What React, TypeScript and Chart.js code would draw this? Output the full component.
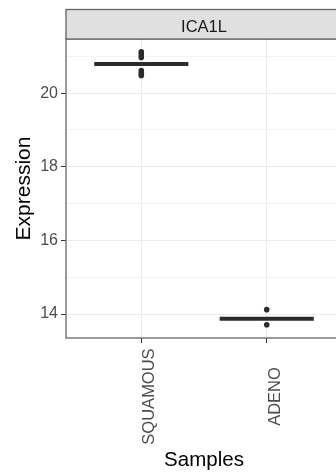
import React, { useEffect, useRef } from "react";
import { Chart, registerables } from "chart.js";

Chart.register(...registerables);

// ---- data ----
const facetTitle = "ICA1L";
const categories = ["SQUAMOUS", "ADENO"];
const medians = [20.79, 13.87];
const squamousPoints = [21.12, 21.05, 20.97, 20.61, 20.54, 20.48];
const adenoPoints = [14.12, 13.71];
const yTickValues = [14, 15, 16, 17, 18, 19, 20, 21];
const yLabelledTicks = [14, 16, 18, 20];
const xTitle = "Samples";
const yTitle = "Expression";
const yMin = 13.35;
const yMax = 21.47;

// ---- style ----
const FONT = "'Liberation Sans', Arial, sans-serif";
const BOX_WIDTH = 0.75;
const GRID = "#ebebeb";
const BORDER = "#666666";
const DARK = "#2b2b2b";
const TICK_TEXT = "#4d4d4d";
const CANVAS_W = 350;
const CANVAS_H = 472;

const panelPlugin = {
  id: "panelDecor",
  afterDatasetsDraw(chart: any) {
    const { ctx, chartArea: a } = chart;
    ctx.save();
    ctx.strokeStyle = BORDER;
    ctx.lineWidth = 1.3;
    ctx.strokeRect(a.left, a.top, a.right - a.left, a.bottom - a.top);
    ctx.restore();
  },
  afterDraw(chart: any) {
    const { ctx, chartArea: a } = chart;
    const xs = chart.scales.x;
    ctx.save();
    // facet strip
    const stripH = 29.5;
    ctx.fillStyle = "#e0e0e0";
    ctx.fillRect(a.left, a.top - stripH, a.right - a.left, stripH);
    ctx.strokeStyle = BORDER;
    ctx.lineWidth = 1.3;
    ctx.strokeRect(a.left, a.top - stripH, a.right - a.left, stripH);
    ctx.fillStyle = "#1a1a1a";
    ctx.font = `16.5px ${FONT}`;
    ctx.textAlign = "center";
    ctx.textBaseline = "alphabetic";
    ctx.fillText(facetTitle, (a.left + a.right) / 2, a.top - 6.7);
    // x category labels, rotated and centred
    ctx.fillStyle = TICK_TEXT;
    ctx.font = `16.5px ${FONT}`;
    categories.forEach((c, i) => {
      const px = xs.getPixelForValue(i + 1);
      ctx.save();
      ctx.translate(px + 12.8, a.bottom + 58.5);
      ctx.rotate(-Math.PI / 2);
      ctx.textAlign = "center";
      ctx.textBaseline = "alphabetic";
      ctx.fillText(c, 0, 0);
      ctx.restore();
    });
    ctx.restore();
  },
};

export default function App() {
  const ref = useRef<HTMLCanvasElement | null>(null);

  useEffect(() => {
    if (!ref.current) return;
    const pointSets = [squamousPoints, adenoPoints];
    const pointDatasets = pointSets.map((pts, i) => ({
      type: "scatter" as const,
      label: categories[i] + " points",
      data: pts.map((v) => ({ x: i + 1, y: v })),
      pointRadius: 2.8,
      pointBackgroundColor: DARK,
      pointBorderWidth: 0,
      showLine: false,
      order: 0,
    }));
    const medianDatasets = medians.map((m, i) => ({
      type: "line" as const,
      label: categories[i] + " median",
      data: [
        { x: i + 1 - BOX_WIDTH / 2, y: m },
        { x: i + 1 + BOX_WIDTH / 2, y: m },
      ],
      borderColor: DARK,
      borderWidth: 4,
      borderCapStyle: "butt" as const,
      pointRadius: 0,
      showLine: true,
      fill: false,
      order: 1,
    }));

    const chart = new Chart(ref.current, {
      type: "scatter",
      data: { datasets: [...medianDatasets, ...pointDatasets] as any },
      options: {
        responsive: false,
        animation: false,
        devicePixelRatio: 1,
        layout: { padding: { left: 0, top: 39, right: CANVAS_W - 342, bottom: 0 } },
        plugins: { legend: { display: false }, tooltip: { enabled: false } },
        scales: {
          x: {
            type: "linear",
            min: 0.4,
            max: 2.6,
            afterBuildTicks: (s: any) => {
              s.ticks = categories.map((_, i) => ({ value: i + 1 }));
            },
            afterFit: (s: any) => {
              s.height = CANVAS_H - 338;
            },
            ticks: { display: false },
            grid: {
              color: GRID,
              lineWidth: 1,
              drawTicks: true,
              tickLength: 5,
              tickColor: "#333333",
            },
            border: { display: false },
            title: {
              display: true,
              text: xTitle,
              color: "#000000",
              font: { family: FONT, size: 20.5, lineHeight: 1 },
              padding: { top: 0, bottom: 1 },
            },
          },
          y: {
            type: "linear",
            min: yMin,
            max: yMax,
            afterBuildTicks: (s: any) => {
              s.ticks = yTickValues.map((v) => ({ value: v }));
            },
            afterFit: (s: any) => {
              s.width = 66;
            },
            ticks: {
              callback: (v: any) => (yLabelledTicks.includes(Number(v)) ? String(v) : ""),
              font: { family: FONT, size: 16 },
              color: TICK_TEXT,
              padding: 3,
            },
            grid: {
              color: GRID,
              lineWidth: (ctx: any) =>
                ctx.tick && yLabelledTicks.includes(ctx.tick.value) ? 1 : 0.6,
              drawTicks: true,
              tickLength: 5,
              tickColor: (ctx: any) =>
                ctx.tick && yLabelledTicks.includes(ctx.tick.value)
                  ? "#333333"
                  : "rgba(0,0,0,0)",
            },
            border: { display: false },
            title: {
              display: true,
              text: yTitle,
              color: "#000000",
              font: { family: FONT, size: 21, lineHeight: 1 },
              padding: { top: 14, bottom: 0 },
            },
          },
        },
      } as any,
      plugins: [panelPlugin],
    });
    return () => chart.destroy();
  }, []);

  return (
    <div
      style={{
        position: "fixed",
        left: 0,
        top: 0,
        width: 336,
        height: 472,
        overflow: "hidden",
        background: "#ffffff",
      }}
    >
      <canvas
        ref={ref}
        width={CANVAS_W}
        height={CANVAS_H}
        style={{ display: "block", width: CANVAS_W, height: CANVAS_H }}
      />
    </div>
  );
}
